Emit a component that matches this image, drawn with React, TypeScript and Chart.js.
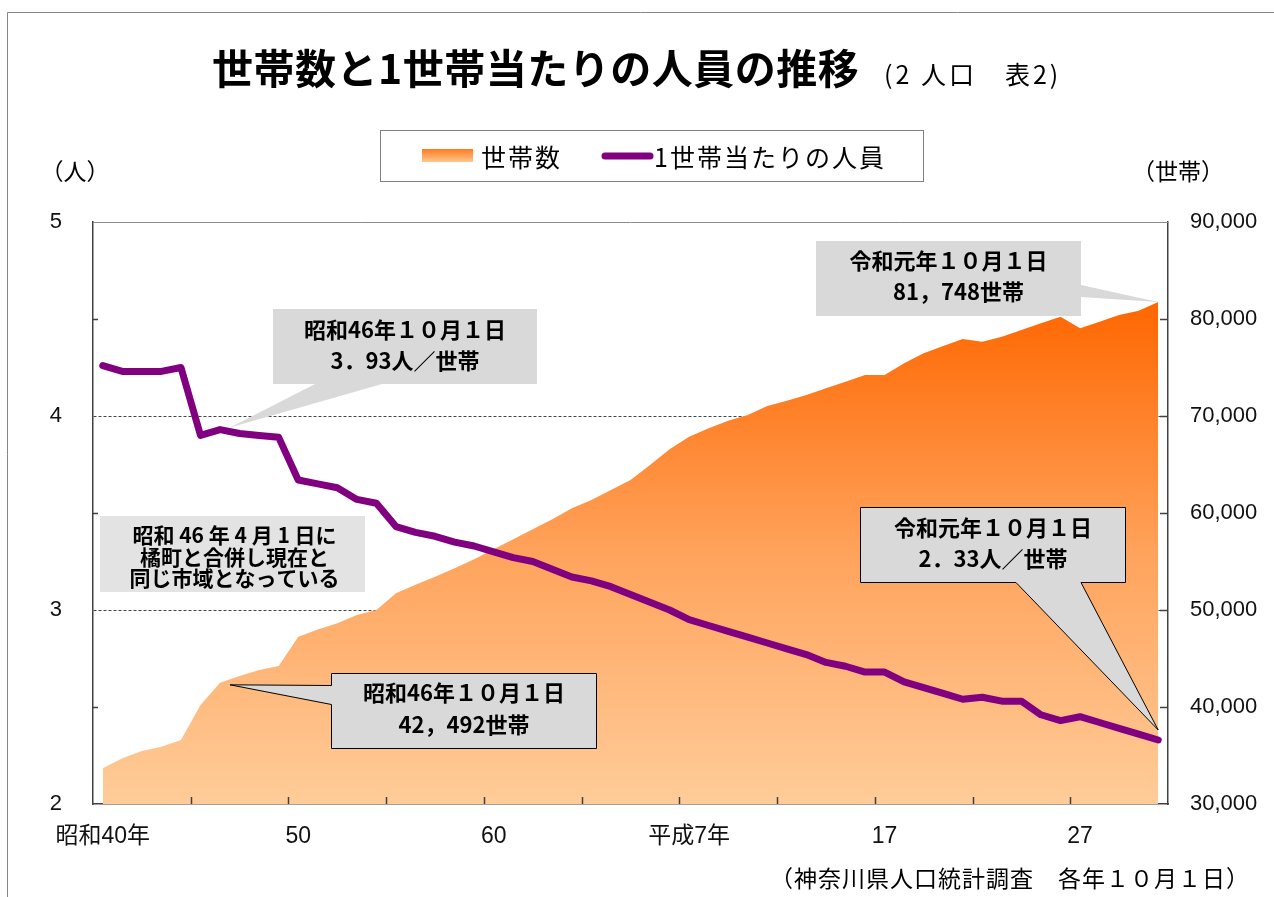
import React, { useEffect, useRef } from 'react';
import { Chart, registerables } from 'chart.js';

Chart.register(...registerables);

// ---------- data ----------
const years = [
  1965, 1966, 1967, 1968, 1969, 1970, 1971, 1972, 1973, 1974,
  1975, 1976, 1977, 1978, 1979, 1980, 1981, 1982, 1983, 1984,
  1985, 1986, 1987, 1988, 1989, 1990, 1991, 1992, 1993, 1994,
  1995, 1996, 1997, 1998, 1999, 2000, 2001, 2002, 2003, 2004,
  2005, 2006, 2007, 2008, 2009, 2010, 2011, 2012, 2013, 2014,
  2015, 2016, 2017, 2018, 2019,
];

const households = [
  33680, 34710, 35460, 35910, 36600, 40200, 42492, 43200, 43810, 44230,
  47250, 48000, 48630, 49480, 50000, 51720, 52600, 53430, 54300, 55230,
  56260, 57290, 58320, 59350, 60480, 61340, 62370, 63400, 64950, 66570,
  67870, 68730, 69520, 70100, 71030, 71570, 72160, 72850, 73530, 74230,
  74230, 75430, 76460, 77220, 77950, 77660, 78170, 78860, 79560, 80240,
  79040, 79720, 80410, 80850, 81748,
];

const personsPerHousehold = [
  4.26, 4.23, 4.23, 4.23, 4.25, 3.90, 3.93, 3.91, 3.90, 3.89,
  3.67, 3.65, 3.63, 3.57, 3.55, 3.43, 3.40, 3.38, 3.35, 3.33,
  3.30, 3.27, 3.25, 3.21, 3.17, 3.15, 3.12, 3.08, 3.04, 3.00,
  2.95, 2.92, 2.89, 2.86, 2.83, 2.80, 2.77, 2.73, 2.71, 2.68,
  2.68, 2.63, 2.60, 2.57, 2.54, 2.55, 2.53, 2.53, 2.46, 2.43,
  2.45, 2.42, 2.39, 2.36, 2.33,
];

const seriesNames = ['世帯数', '1世帯当たりの人員'];

const xLabelYears = [1965, 1975, 1985, 1995, 2005, 2015];
const xLabelTexts = ['昭和40年', '50', '60', '平成7年', '17', '27'];
const xMinorTickYears = [1969.5, 1974.5, 1979.5, 1984.5, 1989.5, 1994.5, 1999.5, 2004.5, 2009.5, 2014.5];
const leftMinorTicks = [2.5, 3.5, 4.5];
const rightTicks = [40000, 50000, 60000, 70000, 80000];

const TITLE = '世帯数と1世帯当たりの人員の推移';
const SUBTITLE = '(2 人口　表2)';
const LEFT_UNIT = '（人）';
const RIGHT_UNIT = '（世帯）';
const SOURCE = '（神奈川県人口統計調査　各年１０月１日）';

// callouts: text + anchor data point
const callouts = [
  { lines: ['昭和46年１０月１日', '3．93人／世帯'], year: 1971, value: 3.93, axis: 'y' },
  { lines: ['昭和46年１０月１日', '42，492世帯'], year: 1971, value: 42492, axis: 'y2' },
  { lines: ['令和元年１０月１日', '81，748世帯'], year: 2019, value: 81748, axis: 'y2' },
  { lines: ['令和元年１０月１日', '2．33人／世帯'], year: 2019, value: 2.33, axis: 'y' },
];
const noteLines = ['昭和 46 年 4 月 1 日に', '橘町と合併し現在と', '同じ市域となっている'];

// ---------- styling ----------
const NUM_FONT = '"Liberation Sans", "Noto Sans CJK JP", sans-serif';
const JP_FONT = '"Noto Sans CJK JP", sans-serif';
const AXIS_COLOR = '#404040';
const LINE_COLOR = '#800080';

function drawCallout(ctx: CanvasRenderingContext2D, poly: number[][], fill: string, border: boolean) {
  ctx.save();
  ctx.beginPath();
  ctx.moveTo(poly[0][0], poly[0][1]);
  for (let i = 1; i < poly.length; i++) ctx.lineTo(poly[i][0], poly[i][1]);
  ctx.closePath();
  ctx.fillStyle = fill;
  ctx.fill();
  if (border) {
    ctx.strokeStyle = '#000';
    ctx.lineWidth = 1;
    ctx.lineJoin = 'miter';
    ctx.stroke();
  }
  ctx.restore();
}

function drawLines(ctx: CanvasRenderingContext2D, lines: string[], xs: number[], ys: number[], font: string) {
  ctx.save();
  ctx.font = font;
  ctx.fillStyle = '#000';
  ctx.textAlign = 'center';
  ctx.textBaseline = 'middle';
  lines.forEach((t, i) => ctx.fillText(t, xs[i], ys[i]));
  ctx.restore();
}

const decorPlugin = {
  id: 'decor',
  afterDatasetsDraw(chart: any) {
    const { ctx, chartArea } = chart;
    const xs = chart.scales.x;
    const ys = chart.scales.y;
    const y2 = chart.scales.y2;
    ctx.save();
    // top border of plot area
    ctx.strokeStyle = '#8a8a8a';
    ctx.lineWidth = 1;
    ctx.beginPath();
    ctx.moveTo(chartArea.left, chartArea.top + 0.5);
    ctx.lineTo(chartArea.right, chartArea.top + 0.5);
    ctx.stroke();
    // inward tick marks
    ctx.strokeStyle = AXIS_COLOR;
    ctx.lineWidth = 1.5;
    ctx.beginPath();
    xMinorTickYears.forEach((v) => {
      const x = Math.round(xs.getPixelForValue(v)) + 0.5;
      ctx.moveTo(x, chartArea.bottom);
      ctx.lineTo(x, chartArea.bottom - 7);
    });
    leftMinorTicks.forEach((v) => {
      const y = Math.round(ys.getPixelForValue(v)) + 0.5;
      ctx.moveTo(chartArea.left, y);
      ctx.lineTo(chartArea.left + 5, y);
    });
    rightTicks.forEach((v) => {
      const y = Math.round(y2.getPixelForValue(v)) + 0.5;
      ctx.moveTo(chartArea.right - 8, y);
      ctx.lineTo(chartArea.right, y);
    });
    ctx.stroke();
    ctx.restore();
  },
  afterDraw(chart: any) {
    const { ctx } = chart;
    const xs = chart.scales.x;
    const pt = (c: any) => [xs.getPixelForValue(c.year), chart.scales[c.axis].getPixelForValue(c.value)];

    ctx.save();
    // outer frame
    ctx.strokeStyle = '#868686';
    ctx.lineWidth = 1;
    ctx.beginPath();
    ctx.moveTo(7.5, 897);
    ctx.lineTo(7.5, 12.5);
    ctx.lineTo(1274, 12.5);
    ctx.stroke();

    // title
    ctx.fillStyle = '#000';
    ctx.textBaseline = 'middle';
    ctx.textAlign = 'left';
    ctx.font = `bold 41px ${JP_FONT}`;
    (ctx as any).letterSpacing = '0.5px';
    ctx.fillText(TITLE, 212, 68);
    ctx.font = `25px ${JP_FONT}`;
    (ctx as any).letterSpacing = '3px';
    ctx.fillText(SUBTITLE, 884, 74);
    (ctx as any).letterSpacing = '0px';

    // unit labels
    ctx.font = `23px ${JP_FONT}`;
    ctx.textAlign = 'center';
    ctx.fillText(LEFT_UNIT, 75, 171);
    ctx.fillText(RIGHT_UNIT, 1178, 171);
    ctx.textAlign = 'right';
    ctx.font = `23px ${JP_FONT}`;
    (ctx as any).letterSpacing = '1px';
    ctx.fillText(SOURCE, 1250, 878);
    (ctx as any).letterSpacing = '0px';

    // legend
    ctx.fillStyle = '#fff';
    ctx.fillRect(380.5, 130.5, 543, 51);
    ctx.strokeStyle = '#808080';
    ctx.lineWidth = 1;
    ctx.strokeRect(380.5, 130.5, 543, 51);
    const lg = ctx.createLinearGradient(0, 149, 0, 162);
    lg.addColorStop(0, '#FF7A1E');
    lg.addColorStop(1, '#FFC890');
    ctx.fillStyle = lg;
    ctx.fillRect(422, 149, 51, 13);
    ctx.strokeStyle = LINE_COLOR;
    ctx.lineWidth = 7;
    ctx.lineCap = 'round';
    ctx.beginPath();
    ctx.moveTo(605, 156);
    ctx.lineTo(650, 156);
    ctx.stroke();
    ctx.fillStyle = '#000';
    ctx.textAlign = 'left';
    ctx.font = `25px ${JP_FONT}`;
    (ctx as any).letterSpacing = '2px';
    ctx.fillText(seriesNames[0], 481, 157);
    ctx.fillText(seriesNames[1], 654, 157);
    (ctx as any).letterSpacing = '0px';
    ctx.restore();

    const boxFont = `bold 22px ${JP_FONT}`;

    // callout 1: 3.93 (pointer from bottom edge)
    {
      const [px, py] = pt(callouts[0]);
      const tip = [px + 10, py - 2];
      const L = 273, T = 309, R = 537, B = 384;
      const cx = (L + R) / 2;
      drawCallout(ctx, [[L, T], [R, T], [R, B], [382, B], tip, [315, B], [L, B]], '#D9D9D9', false);
      drawLines(ctx, callouts[0].lines, [cx, cx], [T + 21, T + 52], boxFont);
    }
    // note box
    {
      const L = 100, T = 516, R = 365, B = 592;
      const cx = (L + R) / 2 + 2;
      drawCallout(ctx, [[L, T], [R, T], [R, B], [L, B]], '#E3E3E3', false);
      drawLines(ctx, noteLines, [cx, cx, cx], [T + 19, T + 41, T + 62], `bold 21px ${JP_FONT}`);
    }
    // callout 2: 42,492 (pointer from left edge)
    {
      const [px, py] = pt(callouts[1]);
      const tip = [px + 10, py + 2];
      const L = 331.5, T = 673.5, R = 596.5, B = 748.5;
      const cx = (L + R) / 2;
      drawCallout(ctx, [[L, T], [R, T], [R, B], [L, B], [L, 704.5], tip, [L, 685.5]], '#D9D9D9', true);
      drawLines(ctx, callouts[1].lines, [cx, cx], [T + 19, T + 51], boxFont);
    }
    // callout 3: 81,748 (pointer from right edge)
    {
      const [px, py] = pt(callouts[2]);
      const tip = [px, py];
      const L = 816, T = 241, R = 1081, B = 316;
      const cx = (L + R) / 2;
      drawCallout(ctx, [[L, T], [R, T], [R, 285], tip, [R, 297], [R, B], [L, B]], '#D9D9D9', false);
      drawLines(ctx, callouts[2].lines, [cx, cx + 10], [T + 20, T + 51], boxFont);
    }
    // callout 4: 2.33 (pointer from bottom edge)
    {
      const [px, py] = pt(callouts[3]);
      const tip = [px, py - 10];
      const L = 860.5, T = 507.5, R = 1125.5, B = 582.5;
      const cx = (L + R) / 2;
      drawCallout(ctx, [[L, T], [R, T], [R, B], [1081, B], tip, [1016, B], [L, B]], '#D9D9D9', true);
      drawLines(ctx, callouts[3].lines, [cx, cx], [T + 20, T + 51], boxFont);
    }
  },
};

export default function App() {
  const ref = useRef<HTMLCanvasElement>(null);

  useEffect(() => {
    if (!ref.current) return;
    const chart = new Chart(ref.current, {
      type: 'line',
      data: {
        datasets: [
          {
            label: seriesNames[0],
            data: households.map((v, i) => ({ x: years[i], y: v })),
            yAxisID: 'y2',
            fill: 'start',
            order: 2,
            borderWidth: 0,
            borderColor: 'rgba(0,0,0,0)',
            pointRadius: 0,
            tension: 0,
            backgroundColor: (c: any) => {
              const ch = c.chart;
              const area = ch.chartArea;
              if (!area) return '#FFA060';
              const top = ch.scales.y2.getPixelForValue(Math.max(...households));
              const g = ch.ctx.createLinearGradient(0, top, 0, area.bottom);
              g.addColorStop(0, '#FF6600');
              g.addColorStop(0.5, '#FFA35C');
              g.addColorStop(1, '#FFCC99');
              return g;
            },
          },
          {
            label: seriesNames[1],
            data: personsPerHousehold.map((v, i) => ({ x: years[i], y: v })),
            yAxisID: 'y',
            fill: false,
            order: 1,
            borderColor: LINE_COLOR,
            borderWidth: 7,
            borderJoinStyle: 'round',
            borderCapStyle: 'round',
            pointRadius: 0,
            tension: 0,
          },
        ],
      },
      options: {
        responsive: false,
        animation: false,
        events: [],
        layout: { padding: { top: 222, left: 0, right: 0, bottom: 0 } },
        plugins: {
          legend: { display: false },
          tooltip: { enabled: false },
          title: { display: false },
        },
        scales: {
          x: {
            type: 'linear',
            min: 1964.5,
            max: 2019.5,
            afterBuildTicks: (s: any) => {
              s.ticks = xLabelYears.map((v) => ({ value: v }));
            },
            afterFit: (s: any) => {
              s.height = 93;
            },
            ticks: {
              autoSkip: false,
              maxRotation: 0,
              minRotation: 0,
              padding: 19,
              color: '#111',
              font: { size: 23, family: NUM_FONT },
              callback: (v: any) => {
                const i = xLabelYears.indexOf(v);
                return i >= 0 ? xLabelTexts[i] : '';
              },
            },
            grid: { display: false, drawTicks: false },
            border: { display: true, color: AXIS_COLOR, width: 1.5 },
          },
          y: {
            type: 'linear',
            position: 'left',
            min: 2,
            max: 5,
            afterFit: (s: any) => {
              s.width = 93;
            },
            ticks: {
              stepSize: 0.5,
              padding: 31,
              color: '#111',
              font: { size: 22, family: NUM_FONT },
              callback: (v: any) => (Number.isInteger(v) ? String(v) : ''),
            },
            grid: {
              drawTicks: false,
              lineWidth: 1,
              color: (c: any) =>
                c.tick && (c.tick.value === 3 || c.tick.value === 4) ? '#444' : 'rgba(0,0,0,0)',
            },
            border: { display: true, color: AXIS_COLOR, width: 1.5, dash: [3, 2] },
          },
          y2: {
            type: 'linear',
            position: 'right',
            min: 30000,
            max: 90000,
            afterFit: (s: any) => {
              s.width = 106;
            },
            ticks: {
              stepSize: 10000,
              padding: 22,
              color: '#111',
              font: { size: 22, family: NUM_FONT },
              callback: (v: any) => Number(v).toLocaleString('en-US'),
            },
            grid: { display: false, drawTicks: false },
            border: { display: true, color: AXIS_COLOR, width: 1.5 },
          },
        },
      },
      plugins: [decorPlugin],
    } as any);
    return () => chart.destroy();
  }, []);

  return (
    <div style={{ position: 'absolute', left: 0, top: 0, width: 1274, height: 897, background: '#fff' }}>
      <canvas ref={ref} width={1274} height={897} style={{ display: 'block', width: 1274, height: 897 }} />
    </div>
  );
}
